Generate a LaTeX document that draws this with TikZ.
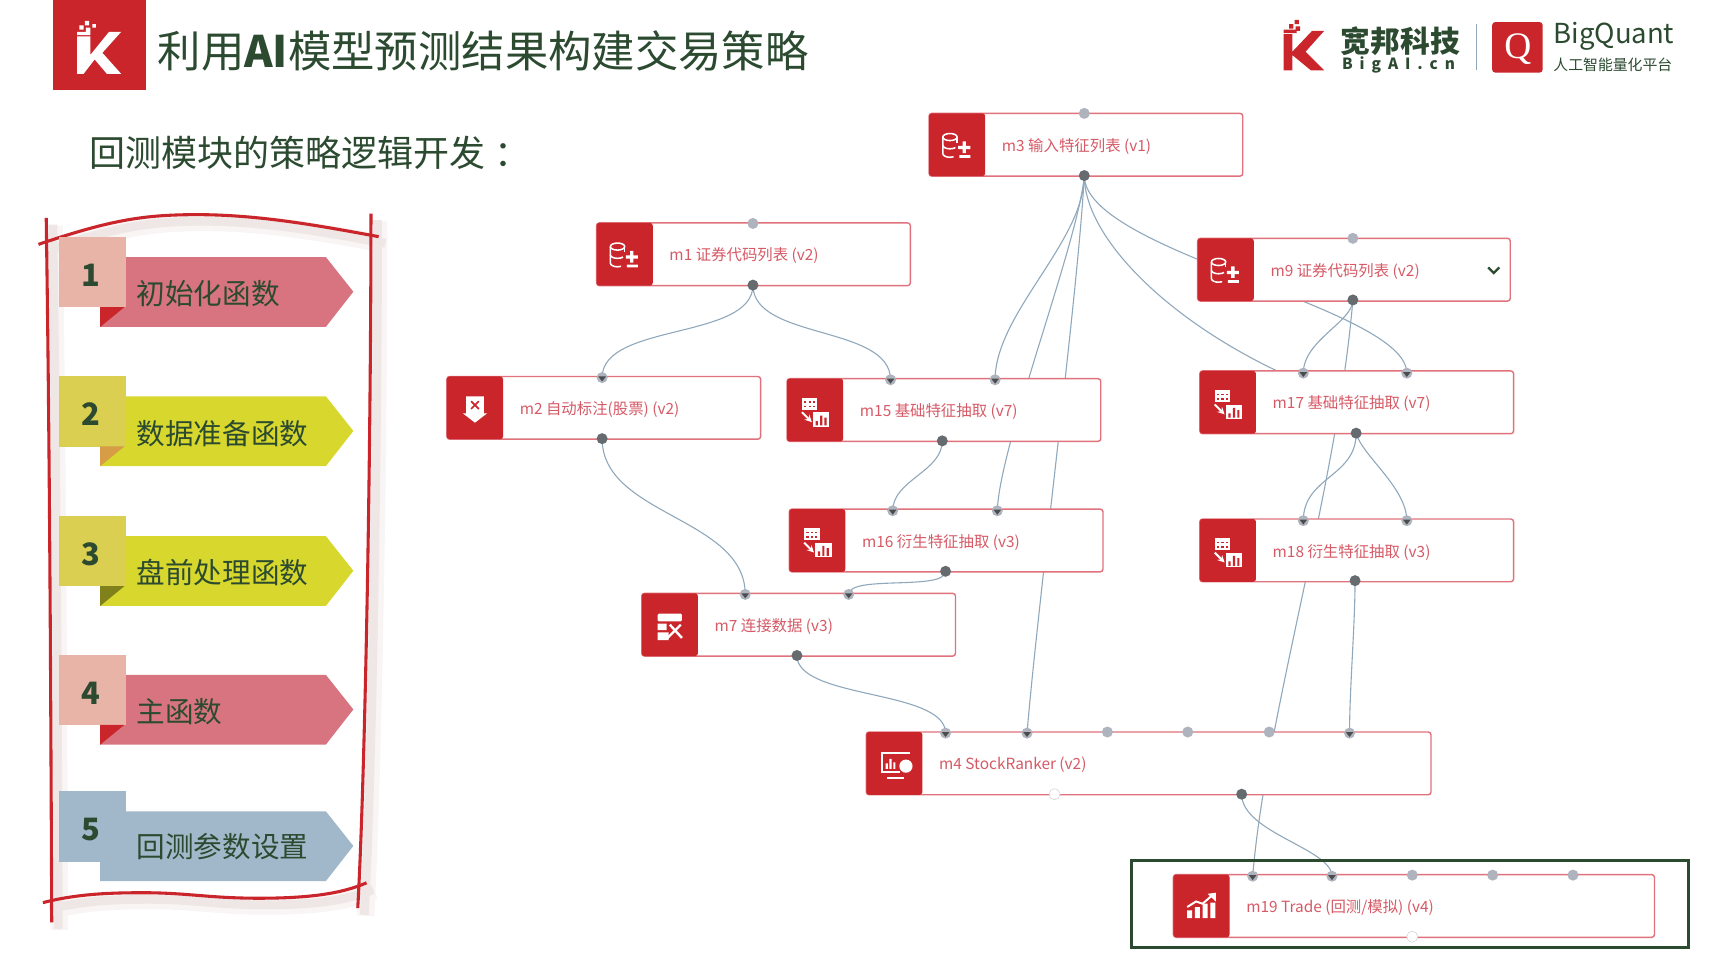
\documentclass[tikz,border=0pt]{standalone}
\usepackage{fontspec}
\setmainfont{Noto Sans CJK SC}
\newfontfamily\qfont{Liberation Serif}
\usetikzlibrary{positioning}
\usetikzlibrary{backgrounds}
\usetikzlibrary{calc}
\definecolor{kred}{HTML}{C9252B}
\definecolor{kgreen}{HTML}{2B4A30}
\definecolor{modline}{HTML}{E0727C}
\definecolor{modtext}{HTML}{D65A66}
\definecolor{wire}{HTML}{8FA8BC}
\definecolor{portgrey}{HTML}{AEB3BE}
\definecolor{portdark}{HTML}{666B70}
\definecolor{rosesq}{HTML}{E8B4A8}
\definecolor{rosear}{HTML}{D77480}
\definecolor{limesq}{HTML}{DBCF52}
\definecolor{limear}{HTML}{D7D72D}
\definecolor{bluesq}{HTML}{A0B8CA}
\definecolor{panelshade}{HTML}{EEE7E6}
\definecolor{panelfade}{HTML}{F8F5F4}
\tikzstyle{modbox}=[draw=modline,line width=1.3pt,fill=white,rounded corners=2.5pt,minimum height=57pt,inner sep=0pt,outer sep=0pt]
\tikzstyle{iconbox}=[fill=kred,rounded corners=2.5pt,minimum width=51pt,minimum height=57pt,inner sep=0pt,outer sep=0pt]
\tikzstyle{modtext}=[text=modtext,font=\fontsize{14}{14}\selectfont,inner sep=0pt]
\tikzstyle{freeport}=[circle,fill=portgrey,minimum size=10pt,inner sep=0pt]
\tikzstyle{outport}=[circle,fill=portdark,minimum size=10pt,inner sep=0pt]
\tikzstyle{whiteport}=[circle,fill=white,draw=black!20,minimum size=10pt,inner sep=0pt]
\tikzstyle{inport}=[circle,fill=portgrey,minimum size=10pt,inner sep=0pt,path picture={\fill[black!70] (-3.5,-1) -- (3.5,-1) -- (0,3.5) -- cycle;}]
\tikzstyle{edge}=[draw=wire,line width=1pt]
\tikzstyle{panelline}=[draw=kred,line width=2.8pt]
\tikzstyle{panelshadow}=[draw=panelshade,line width=8pt]
\tikzstyle{panelglow}=[draw=panelfade,line width=16pt]
\tikzstyle{itemtext}=[text=kgreen,font=\fontsize{26}{26}\selectfont,anchor=west,inner sep=0pt]
\tikzstyle{itemnum}=[text=kgreen,font=\fontsize{28}{28}\selectfont\bfseries,inner sep=0pt]
\tikzstyle{heading}=[text=kgreen,anchor=west,inner sep=0pt]
% icons, origin at the centre of the red box
\newcommand{\drawdb}{
  \draw[white,line width=1.4pt] (-13,-7) arc (180:-180:6.5 and 3.2);
  \draw[white,line width=1.4pt] (-13,-7) -- (-13,8) arc (180:60:6.5 and 3.4);
  \draw[white,line width=1.4pt] (-13,0.5) arc (180:40:6.5 and 3.2);
  \draw[white,line width=1.4pt] (0,-7) -- (0,-2);
  \fill[white] (1,1) rectangle (12,4) (5,-3) rectangle (8,7.5) (2,9.5) rectangle (12,12);
}
\newcommand{\drawdown}{
  \fill[white] (-8,-10.5) -- (8,-10.5) -- (8,5) -- (11,5) -- (0,13.5) -- (-11,5) -- (-8,5) -- cycle;
  \draw[kred,line width=1.5pt] (-3.5,-6) -- (3.5,1) (3.5,-6) -- (-3.5,1);
}
\newcommand{\drawextract}{
  \fill[white] (-12,-11) rectangle (2,0);
  \foreach \a in {-10,-6,-2} \foreach \b in {-8,-4}
    \fill[kred] (\a,\b) rectangle +(2,1.6);
  \draw[white,line width=1.8pt,->,>=stealth] (-12,2) -- (-3,11);
  \fill[white] (-2,2) rectangle (13,15);
  \fill[kred] (0.5,10) rectangle +(2,4) (4.5,5) rectangle +(2,9) (8.5,7) rectangle +(2,7);
}
\newcommand{\drawjoin}{
  \fill[white,rounded corners=1pt] (-11,-10) rectangle (11,-3);
  \fill[white] (-11,-1) rectangle (-3,5) (-11,7) rectangle (-1,14);
  \draw[white,line width=2.2pt] (-2,12) -- (10,0) (0,0) -- (11,12);
}
\newcommand{\drawrank}{
  \draw[white,line width=1.5pt] (14,-9.5) -- (-11,-9.5) -- (-11,8) -- (5,8);
  \fill[white] (-8,0) rectangle +(2,5) (-4.5,-4) rectangle +(2,9) (-1,-1) rectangle +(2,6);
  \fill[white] (10.5,2.5) circle (6);
  \fill[white] (-7,12) rectangle (9,14);
}
\newcommand{\drawtrade}{
  \fill[white] (-13,4) rectangle +(4.5,7) (-6,1) rectangle +(4.5,10) (1,-2) rectangle +(4.5,13) (8,-3) rectangle +(4.5,14);
  \draw[white,line width=1.8pt] (-13,1) -- (-5,-4) -- (1,-2) -- (9,-9);
  \fill[white] (13,-12) -- (13,-4) -- (5.5,-11) -- cycle;
}
\begin{document}
\begin{tikzpicture}[x=1pt,y=-1pt]
\useasboundingbox (0,0) rectangle (1568,883);

% title
\node[fill=kred,minimum width=84pt,minimum height=82pt,inner sep=0pt,anchor=north west] (logoleft) at (48,0) {};
\fill[white] (70,33) -- (82,33) -- (82,50) -- (99,29) -- (110,29) -- (93,48) -- (110,67) -- (97,67) -- (86,54) -- (76,67) -- (70,67) -- cycle;
\fill[white] (72,23) rectangle +(4,4) (77,19) rectangle +(4,4) (78,25) rectangle +(4,4) (84,22) rectangle +(3,3) (70,29) rectangle +(12,3);
\node[heading,font=\fontsize{39.4}{39.4}\selectfont] (title) at (143,46) {利用\textbf{AI}模型预测结果构建交易策略};
\node[heading,font=\fontsize{32.7}{32.7}\selectfont] (subtitle) at (81,139) {回测模块的策略逻辑开发\hspace{8pt}：};

% top right logos
\fill[kred] (1166,31) rectangle (1174,64) (1174,47) -- (1192,28) -- (1203,28) -- (1186,47) -- (1203,64) -- (1191,64) -- (1174,50) -- cycle;
\fill[kred] (1171,22) rectangle +(4,4) (1176,18) rectangle +(4,4) (1177,24) rectangle +(4,4) (1166,27) rectangle +(12,3);
\node[heading,font=\fontsize{27}{27}\selectfont\bfseries] (kuanbang) at (1218,37) {宽邦科技};
\node[heading,font=\fontsize{14}{14}\selectfont\bfseries\addfontfeature{LetterSpace=45}] (bigai) at (1219,59) {BigAI.cn};
\draw[wire,line width=1.4pt] (1341.5,22) -- (1341.5,64);
\node[fill=kred,rounded corners=3pt,minimum width=46pt,minimum height=46pt,inner sep=0pt] (logoq) at (1378.5,43) {};
\node[text=white,font=\fontsize{34}{34}\qfont\selectfont,inner sep=0pt] (logoqtext) at (1379,45) {Q};
\node[heading,font=\fontsize{25}{25}\selectfont] (bigquant) at (1411,33) {BigQuant};
\node[heading,font=\fontsize{13.5}{13.5}\selectfont] (platform) at (1411,59) {人工智能量化平台};

% left panel
\foreach \sty/\dd in {panelglow/7, panelshadow/6, panelline/0} {
  \draw[\sty,shift={(\dd,\dd)}] (35,222) .. controls (100,200) and (130,195) .. (179,195) .. controls (235,195) and (290,205) .. (344,215);
  \draw[\sty,shift={(\dd,\dd)}] (42,198) .. controls (45,400) and (46,600) .. (47,838);
  \draw[\sty,shift={(\dd,\dd)}] (337,194) .. controls (337,400) and (332,700) .. (325,825);
  \draw[\sty,shift={(\dd,\dd)}] (39,820) .. controls (70,812) and (100,811) .. (130,811) .. controls (170,811) and (190,816) .. (235,816) .. controls (280,816) and (310,812) .. (333,802);
}
\foreach \y/\num/\sqcol/\arcol/\foldcol/\dy/\txt in {
  215/1/rosesq/rosear/kred/52/初始化函数,
  341.5/2/limesq/limear/{kred!30!limesq}/52/数据准备函数,
  468.5/3/limesq/limear/{black!40!limear}/52/盘前处理函数,
  594.5/4/rosesq/rosear/kred/52/主函数,
  718.5/5/bluesq/bluesq/bluesq/51/回测参数设置} {
  \fill[\arcol] (91,\y+18.5) -- (296,\y+18.5) -- (321,\y+50) -- (296,\y+82) -- (91,\y+82) -- cycle;
  \node[fill=\sqcol,minimum width=61pt,minimum height=64pt,inner sep=0pt,anchor=north west] (sq\num) at (53,\y) {};
  \fill[\foldcol] (91,\y+64) -- (113,\y+64) -- (91,\y+82) -- cycle;
  \node[itemnum] (num\num) at (83,\y+35) {\num};
  \node[itemtext] (item\num) at (124,\y+\dy) {\txt};
}

% modules
\foreach \x/\y/\w/\name/\icon/\label in {
  844/131.5/285/m3/db/m3 输入特征列表 (v1),
  542/231/285/m1/db/m1 证券代码列表 (v2),
  1088/245/284/m9/db/m9 证券代码列表 (v2),
  406/370.5/285/m2/down/m2 自动标注(股票) (v2),
  715/372.5/285/m15/extract/m15 基础特征抽取 (v7),
  1090/365.5/285/m17/extract/m17 基础特征抽取 (v7),
  717/491/285/m16/extract/m16 衍生特征抽取 (v3),
  1090/500/285/m18/extract/m18 衍生特征抽取 (v3),
  583/567.5/285/m7/join/m7 连接数据 (v3),
  787/693.5/513/m4/rank/m4 StockRanker (v2),
  1066/823/437/m19/trade/{m19 Trade (回测/模拟) (v4)}} {
  \node[modbox,minimum width=\w pt,anchor=west] (\name) at (\x,\y) {};
  \node[iconbox,anchor=west] (\name ic) at (\name.west) {};
  \begin{scope}[shift={(\name ic)}]
    \csname draw\icon\endcsname
  \end{scope}
  \node[modtext,anchor=west,right=15pt of \name ic,yshift=-1.5pt] (\name txt) {\label};
}
\draw[kgreen,line width=2pt] (1352,243) -- (1357,248) -- (1362,243);

\node[draw=kgreen,line width=3pt,minimum width=506pt,minimum height=79pt,inner sep=0pt,anchor=north west] (frame) at (1026.5,780) {};

% ports
\foreach \x/\y/\name in {985/103/m3t, 684/203/m1t, 1229/216.5/m9t, 1006/665/m4a, 1079/665/m4b, 1153/665/m4c, 1283/795/m19a, 1356/795/m19b, 1429/795/m19c}
  \node[freeport] (\name) at (\x,\y) {};
\foreach \x/\y/\name in {985/159.5/m3o, 684/259/m1o, 1229/272.5/m9o, 547/398.5/m2o, 856/400.5/m15o, 1232/393.5/m17o, 859/519/m16o, 1231/527.5/m18o, 724/595.5/m7o, 1128/721.5/m4o}
  \node[outport] (\name) at (\x,\y) {};
\foreach \x/\y/\name in {547/343/m2i, 809/345/m15a, 904/345/m15b, 1184/339/m17a, 1278/339/m17b, 811/464/m16a, 906/464/m16b, 1184/473/m18a, 1278/473/m18b, 677/540/m7a, 771/540/m7b, 859/666/m4i, 933/666/m4j, 1226/666/m4k, 1138/796/m19i, 1210/796/m19j}
  \node[inport] (\name) at (\x,\y) {};
\foreach \x/\y/\name in {958/721.5/m4w, 1283/851/m19w}
  \node[whiteport] (\name) at (\x,\y) {};

% connectors go behind the modules
\begin{scope}[on background layer]
\foreach \source/\dest/\ax/\ay/\bx/\by in {
  m1o/m2i/0/50/0/-50, m1o/m15a/0/50/0/-50,
  m2o/m7a/0/70/0/-70, m15o/m16a/0/28/0/-28,
  m16o/m7b/0/18/0/-18, m7o/m4i/0/40/0/-40,
  m3o/m15b/0/60/0/-60, m3o/m16b/-5/60/2/-60,
  m3o/m4j/-5/100/10/-120, m3o/m17b/0/70/0/-60,
  m3o/m17/0/66/-142/-45, m9o/m17a/0/20/0/-30,
  m9o/m19i/-14/168/12/-145, m17o/m18a/0/40/0/-40,
  m17o/m18b/5/20/0/-30, m18o/m4k/0/40/0/-40,
  m4o/m19j/0/35/0/-25}
  \draw[edge] (\source.center) .. controls +(\ax,\ay) and +(\bx,\by) .. (\dest.center);
\end{scope}
\end{tikzpicture}
\end{document}
